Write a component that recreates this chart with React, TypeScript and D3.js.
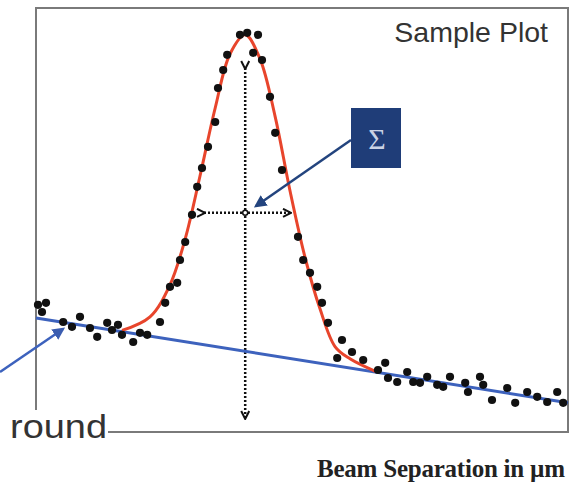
import React from 'react'
import * as d3 from 'd3'

// measured points (arbitrary units: x = beam separation, y = rate)
const dotX = [0.5, 2.5, 1.5, 6.8, 9, 11, 13.5, 15.3, 17.8, 19, 20.5, 21.5, 24.3, 26, 27.8,
  31, 32.3, 33.5, 35.3, 36, 37.3, 39, 40.3, 41.5, 43, 44.8, 45.5, 46.8, 47.8, 51,
  52.8, 55.5, 54.3, 56.5, 58.5, 59.8, 61.5, 65.5, 66.8, 68.5, 70.3, 71.5, 73, 76.5, 75.3, 79, 81.8,
  85.5, 87.3, 88, 90.3, 92.8, 94.3, 96, 97.8, 100.3, 101.8, 103.5, 107.3, 108, 111, 111.8,
  114, 117.8, 119.8, 122.8, 125.3, 127.8, 130.3, 131.8]
const dotY = [31.8, 32.3, 30, 27.5, 26.3, 28.8, 26, 23.8, 27.3, 25.5, 26.8, 24.3, 22.5, 24.8, 24.3,
  27.5, 32.3, 36.3, 37.3, 43, 47.5, 54.3, 61.3, 66, 71.3, 77.5, 86, 90.5, 94.3, 99.3,
  99.8, 99.3, 94.8, 93, 83.8, 74.8, 65.5, 48.8, 43, 39.8, 36.3, 32.3, 27.3, 23, 18.5, 20, 18,
  15.5, 17.3, 13.5, 12.5, 15, 12.5, 12.3, 13.8, 11.8, 11.3, 13.8, 12.3, 10, 13.8, 11.8,
  8, 11, 7.3, 10, 8.8, 7.5, 10, 7.3]

// gaussian fit on top of background
const fitX = [21.5, 28.5, 33.5, 37.3, 41, 44.8, 48.5, 52.3, 56, 59.8, 63.5, 67.3, 71, 74.8, 78.5, 85]
const fitY = [25.4, 28.8, 36.8, 48.3, 64, 81, 94.5, 99.3, 93.3, 78.8, 60.3, 43.5, 30.8, 21.3, 18.3, 15.1]

// linear background
const bgX = [0, 133]
const bgY = [28.5, 7.3]

// mean and sigma markers
const meanX = 52.3
const meanRange = [3.5, 91]
const sigmaY = 54.8
const sigmaRange = [42, 63.5]

const title = 'Sample Plot'
const xLabel = 'Beam Separation in µm'
const bgLabel = 'round'

export default function App() {
  const W = 569, H = 487
  const m = { left: 36, top: 8, right: 568, bottom: 432 }

  const x = d3.scaleLinear().domain([0, 133]).range([m.left, m.right])
  const y = d3.scaleLinear().domain([0, 106]).range([m.bottom, m.top])

  const fitLine = d3.line<number>()
    .x((d, i) => x(fitX[i]))
    .y((d, i) => y(fitY[i]))
    .curve(d3.curveCatmullRom.alpha(0.5))

  const bgLine = d3.line<number>()
    .x((d, i) => x(bgX[i]))
    .y((d, i) => y(bgY[i]))

  // sigma box
  const box = { x: 351, y: 108, w: 50, h: 60 }

  return (
    <svg width={W} height={H} style={{ position: 'absolute', left: 0, top: 0, background: '#fff' }}>
      <defs>
        <marker id="navyHead" viewBox="0 0 10 10" refX="8" refY="5" markerWidth="5" markerHeight="5" orient="auto">
          <path d="M0,0 L10,5 L0,10 z" fill="#23447e" />
        </marker>
        <marker id="blueHead" viewBox="0 0 10 10" refX="8" refY="5" markerWidth="5" markerHeight="5" orient="auto">
          <path d="M0,0 L10,5 L0,10 z" fill="#3b5db0" />
        </marker>
        <marker id="dotHead" viewBox="0 0 10 10" refX="8" refY="5" markerWidth="4" markerHeight="4" orient="auto">
          <path d="M1,1 L9,5 L1,9" fill="none" stroke="#111" strokeWidth="2" />
        </marker>
      </defs>

      {/* frame */}
      <rect x={m.left} y={m.top} width={m.right - m.left} height={m.bottom - m.top}
        fill="none" stroke="#7a7a7a" strokeWidth={2} />

      {/* mean and sigma dotted lines */}
      <line x1={x(meanX)} x2={x(meanX)} y1={y(meanRange[1])} y2={y(meanRange[0])}
        stroke="#111" strokeWidth={2.5} strokeDasharray="2,2"
        markerStart="url(#dotHead)" markerEnd="url(#dotHead)" />
      <line x1={x(sigmaRange[0])} x2={x(sigmaRange[1])} y1={y(sigmaY)} y2={y(sigmaY)}
        stroke="#111" strokeWidth={2.5} strokeDasharray="2,2"
        markerStart="url(#dotHead)" markerEnd="url(#dotHead)" />
      <circle cx={x(meanX)} cy={y(sigmaY)} r={2.5} fill="#fff" stroke="#111" strokeWidth={1.5} />

      {/* background line */}
      <path d={bgLine(bgX) || ''} fill="none" stroke="#3d62bd" strokeWidth={3} />

      {/* fit */}
      <path d={fitLine(fitX) || ''} fill="none" stroke="#e8452c" strokeWidth={3} />

      {/* data */}
      <g fill="#111">
        {dotX.map((d, i) => (
          <circle key={i} cx={x(d)} cy={y(dotY[i])} r={4.1} />
        ))}
      </g>

      {/* sigma callout */}
      <line x1={box.x} y1={140} x2={256} y2={206} stroke="#23447e" strokeWidth={2.5} markerEnd="url(#navyHead)" />
      <rect x={box.x} y={box.y} width={box.w} height={box.h} fill="#1f3d78" />
      <text x={box.x + box.w / 2 + 1} y={box.y + 41} textAnchor="middle" fontFamily="Liberation Serif, serif"
        fontSize={30} fill="#c9d2e4">Σ</text>

      {/* background label and arrow */}
      <line x1={0} y1={372} x2={63} y2={329} stroke="#3d62bd" strokeWidth={2.5} markerEnd="url(#blueHead)" />
      <rect x={0} y={410} width={108} height={36} fill="#fff" />
      <text x={10} y={438} fontFamily="Liberation Sans, Arial, sans-serif"
        fontSize={33} fill="#333" textLength={97} lengthAdjust="spacingAndGlyphs">{bgLabel}</text>

      {/* title */}
      <text x={548} y={42} textAnchor="end" fontFamily="Liberation Sans, Arial, sans-serif"
        fontSize={28.5} fill="#333">{title}</text>

      {/* x label */}
      <text x={565} y={477} textAnchor="end" fontFamily="Liberation Serif, Times New Roman, serif"
        fontWeight="bold" fontSize={25} fill="#222" textLength={248}>{xLabel}</text>
    </svg>
  )
}
